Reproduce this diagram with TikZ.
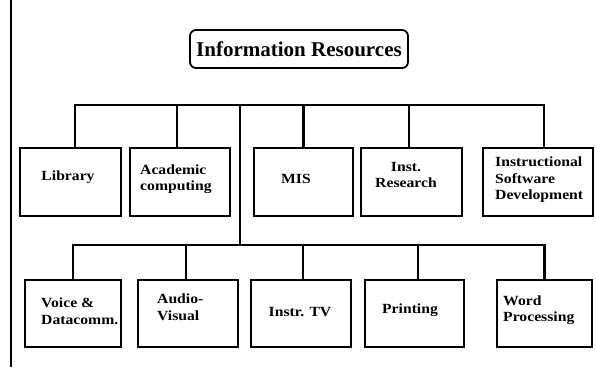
\documentclass[tikz,border=0pt]{standalone}
\usepackage{fontspec}
\setmainfont{Liberation Serif}
\newfontfamily\boxfont{Liberation Serif}[FakeStretch=1.12]
\begin{document}
\begin{tikzpicture}[x=1pt,y=-1pt,
  wire/.style={line width=2.2pt,line join=miter},
  unit/.style={draw,line width=2.2pt,inner sep=0pt,outer sep=0pt,fill=white},
  toprow/.style={unit,minimum height=68pt},
  lowrow/.style={unit,minimum height=67pt},
  lbl/.style={font=\boxfont\bfseries\fontsize{14}{16.5}\selectfont,inner sep=0pt},
  headbox/.style={draw,line width=1.8pt,rounded corners=6pt,minimum width=218pt,minimum height=38pt,inner sep=0pt,
    font=\bfseries\fontsize{21}{24}\selectfont}]
\useasboundingbox[fill=white] (0,0) rectangle (596,367);

% margin rule on the left
\coordinate (ruleTop) at (11,0);
\coordinate (ruleBot) at (11,367);
\draw[line width=1.8pt] (ruleTop) -- (ruleBot);

% head of the chart
\node[headbox] (head) at (299,49) {Information Resources};

% first tier
\node[toprow,minimum width=101pt] (lib)  at (70.5,182) {};
\node[toprow,minimum width=100pt] (acad) at (180,182) {};
\node[toprow,minimum width=99pt]  (mis)  at (303.5,182) {};
\node[toprow,minimum width=101pt] (ir)   at (411.5,182) {};
\node[toprow,minimum width=110pt] (isd)  at (538,182) {};

% second tier
\node[lowrow,minimum width=96pt]  (voice) at (73,313.5) {};
\node[lowrow,minimum width=100pt] (av)    at (188,313.5) {};
\node[lowrow,minimum width=100pt] (tv)    at (301,313.5) {};
\node[lowrow,minimum width=99pt]  (print) at (414.5,313.5) {};
\node[lowrow,minimum width=95pt]  (word)  at (544.5,313.5) {};

% unit names
\node[lbl] (libT) at (68,177) {Library};
\node[lbl,anchor=west,align=left] (acadT) at (140,179) {Academic\\computing};
\node[lbl] (misT) at (296,179) {MIS};
\node[lbl,align=center] (irT) at (406,175) {Inst.\\Research};
\node[lbl,anchor=west,align=left] (isdT) at (495,180) {Instructional\\Software\\Development};
\node[lbl,anchor=west,align=left] (voiceT) at (41,311) {Voice \&\\Datacomm.};
\node[lbl,anchor=west,align=left] (avT) at (157,307) {Audio-\\Visual};
\node[lbl] (tvT) at (300,312) {Instr. TV};
\node[lbl] (printT) at (410,310) {Printing};
\node[lbl,anchor=west,align=left] (wordT) at (503,310) {Word\\Processing};

% buses and trunk
\coordinate (topbus) at (0,105);
\coordinate (lowbus) at (0,245);
\coordinate (trunkTop) at (240,105);
\coordinate (trunkBot) at (240,245);

\draw[wire] ([xshift=4.5pt]lib.north) |- ([xshift=6pt]isd.north |- topbus) -- ([xshift=6pt]isd.north);
\draw[wire] ([xshift=-3pt]acad.north) -- ([xshift=-3pt]acad.north |- topbus);
\draw[wire] (mis.north) -- (mis.north |- topbus);
\draw[wire] ([xshift=-2.5pt]ir.north) -- ([xshift=-2.5pt]ir.north |- topbus);
\draw[wire] (trunkTop) -- (trunkBot);

\draw[wire] (voice.north) |- (word.north |- lowbus) -- (word.north);
\draw[wire] ([xshift=-2pt]av.north) -- ([xshift=-2pt]av.north |- lowbus);
\draw[wire] ([xshift=2pt]tv.north) -- ([xshift=2pt]tv.north |- lowbus);
\draw[wire] ([xshift=3.5pt]print.north) -- ([xshift=3.5pt]print.north |- lowbus);
\end{tikzpicture}
\end{document}
